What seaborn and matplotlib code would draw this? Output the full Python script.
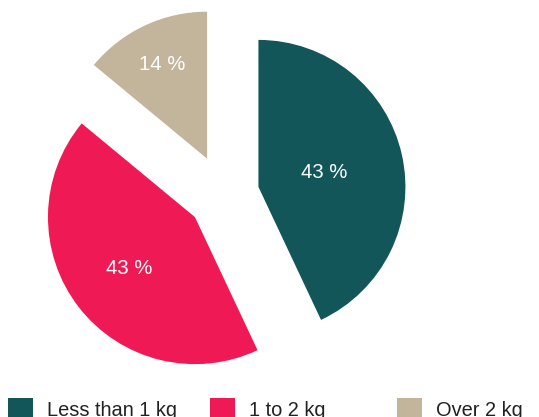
import numpy as np
import matplotlib
matplotlib.use("Agg")
import matplotlib.pyplot as plt
import seaborn as sns

# Share of items by weight class
categories = ["Less than 1 kg", "1 to 2 kg", "Over 2 kg"]
shares = [43, 43, 14]
colors = ["#12565a", "#ef1a55", "#c2b59b"]

sns.set_theme(style="white")
plt.rcParams["font.family"] = ["Liberation Sans", "DejaVu Sans"]

W, H = 539, 417
fig = plt.figure(figsize=(W / 100, H / 100), dpi=100)
ax = fig.add_axes([0, 0, 1, 1])

palette = sns.color_palette(colors)
center = (224, 222.4)
radius = 147
explode_frac = [0.24, 0.25, 0.27]
label_dist = [0.46, 0.57, 0.71]

wedges, texts, autotexts = ax.pie(
    shares,
    colors=palette,
    startangle=90,
    counterclock=False,
    explode=[e * radius for e in explode_frac],
    center=center,
    radius=radius,
    autopct=lambda p: f"{p:.0f} %",
    textprops=dict(color="white", fontsize=14.6),
    wedgeprops=dict(linewidth=0),
)

# place each percentage label along its slice's bisector
for w, t, e, d in zip(wedges, autotexts, explode_frac, label_dist):
    mid = np.deg2rad((w.theta1 + w.theta2) / 2)
    t.set_position((center[0] + (e + d) * radius * np.cos(mid),
                    center[1] + (e + d) * radius * np.sin(mid)))

ax.set_xlim(0, W)
ax.set_ylim(0, H)
ax.set_aspect("auto")
ax.axis("off")

# legend entries laid out along the bottom edge
legend_x = [8, 210, 397]
for w, name, x in zip(wedges, categories, legend_x):
    fig.legend(
        [w], [name],
        loc="center left",
        bbox_to_anchor=(x / W, 8.0 / H),
        frameon=False,
        fontsize=14.4,
        handlelength=1.25,
        handleheight=1.25,
        handletextpad=0.7,
        borderpad=0,
        borderaxespad=0,
        labelcolor="#222222",
    )

fig.savefig("out.png", dpi=100)
